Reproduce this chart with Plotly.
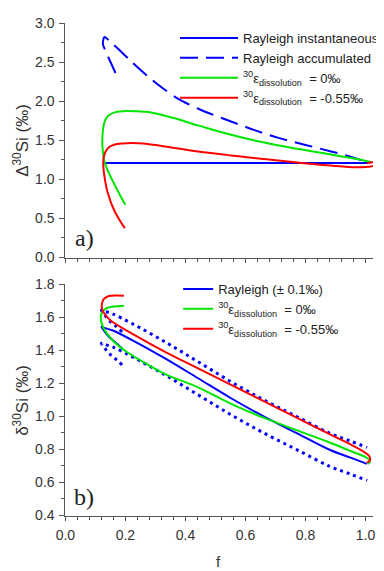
import plotly.graph_objects as go

# ---------------- Panel a) data ----------------
inst_f = [0.125, 1.01]
inst_d = [1.21, 1.21]

acc_f = [0.167, 0.148, 0.133, 0.125, 0.126, 0.130, 0.155, 0.178, 0.222, 0.277, 0.33, 0.376,
         0.45, 0.552, 0.63, 0.71, 0.80, 0.882, 0.95, 1.005]
acc_d = [2.36, 2.52, 2.65, 2.73, 2.78, 2.82, 2.74, 2.66, 2.50, 2.31, 2.15, 2.03,
         1.89, 1.74, 1.63, 1.53, 1.44, 1.36, 1.29, 1.22]

g0_f = [0.200, 0.183, 0.167, 0.155, 0.145, 0.136, 0.129, 0.125, 0.123, 0.124, 0.127, 0.133,
        0.145, 0.167, 0.206, 0.24, 0.277, 0.354, 0.442, 0.552, 0.662, 0.772, 0.882, 0.970, 1.02]
g0_d = [0.675, 0.79, 0.91, 1.00, 1.08, 1.16, 1.25, 1.35, 1.465, 1.58, 1.68, 1.76,
        1.82, 1.86, 1.875, 1.87, 1.86, 1.79, 1.69, 1.57, 1.47, 1.39, 1.32, 1.26, 1.22]

r0_f = [0.198, 0.182, 0.167, 0.155, 0.145, 0.137, 0.132, 0.128, 0.126, 0.128, 0.134, 0.145,
        0.162, 0.19, 0.222, 0.26, 0.332, 0.442, 0.552, 0.662, 0.772, 0.882, 0.97, 1.01,
        1.03, 1.028, 1.005]
r0_d = [0.376, 0.47, 0.57, 0.67, 0.78, 0.89, 0.995, 1.10, 1.21, 1.29, 1.357, 1.41,
        1.443, 1.46, 1.465, 1.46, 1.42, 1.357, 1.306, 1.26, 1.216, 1.178, 1.155, 1.16,
        1.185, 1.215, 1.205]

# ---------------- Panel b) data ----------------
ray_f = [0.189, 0.165, 0.145, 0.130, 0.120, 0.130, 0.156, 0.222, 0.332, 0.442, 0.552,
         0.662, 0.772, 0.882, 0.95, 1.005]
ray_d = [1.411, 1.45, 1.481, 1.515, 1.542, 1.535, 1.52, 1.461, 1.35, 1.23, 1.109,
         0.998, 0.897, 0.796, 0.75, 0.712]
ray_hi = [1.511, 1.55, 1.581, 1.615, 1.642, 1.635, 1.62, 1.561, 1.45, 1.33, 1.209,
          1.098, 0.997, 0.896, 0.85, 0.812]
ray_lo = [1.311, 1.35, 1.381, 1.415, 1.442, 1.435, 1.42, 1.361, 1.25, 1.13, 1.009,
          0.898, 0.797, 0.696, 0.65, 0.612]

g1_f = [0.195, 0.175, 0.156, 0.138, 0.129, 0.120, 0.118, 0.121, 0.134, 0.150, 0.167, 0.211,
        0.277, 0.332, 0.442, 0.552, 0.662, 0.772, 0.882, 0.95, 1.005, 1.015, 1.008]
g1_d = [1.669, 1.666, 1.663, 1.655, 1.643, 1.62, 1.602, 1.562, 1.512, 1.475, 1.441, 1.381,
        1.31, 1.255, 1.175, 1.075, 0.99, 0.915, 0.84, 0.79, 0.748, 0.73, 0.712]

r1_f = [0.195, 0.17, 0.145, 0.13, 0.125, 0.121, 0.124, 0.129, 0.14, 0.156, 0.222, 0.332,
        0.442, 0.552, 0.662, 0.772, 0.882, 0.95, 0.99, 1.012, 1.015, 1.005]
r1_d = [1.729, 1.73, 1.727, 1.712, 1.70, 1.663, 1.64, 1.623, 1.598, 1.572, 1.50, 1.39,
        1.29, 1.19, 1.09, 0.99, 0.89, 0.83, 0.79, 0.76, 0.735, 0.72]

x_ticks = [0.0, 0.2, 0.4, 0.6, 0.8, 1.0]
x_tick_text = ["0.0", "0.2", "0.4", "0.6", "0.8", "1.0"]

BLUE = "#0000ff"
GREEN = "#00e600"
RED = "#ff0000"
AX = "#555555"
TXT = "#333333"
FONT = "Liberation Sans, Arial, sans-serif"
SERIF = "Liberation Serif, Times New Roman, serif"

# page is shown with an 8px body margin; figure sized to fit the window
OFF = 8
W, H = 384 - OFF, 571 - OFF


def px(x):
    return (x - OFF) / W


def py(y):
    return 1 - (y - OFF) / H


fig = go.Figure()

# panel a
fig.add_trace(go.Scatter(x=inst_f, y=inst_d, mode="lines", line=dict(color=BLUE, width=2),
                         name="Rayleigh instantaneous", xaxis="x", yaxis="y", legend="legend"))
fig.add_trace(go.Scatter(x=acc_f, y=acc_d, mode="lines",
                         line=dict(color=BLUE, width=2, dash="18px,8px", shape="spline", smoothing=0.8),
                         name="Rayleigh accumulated", xaxis="x", yaxis="y", legend="legend"))
fig.add_trace(go.Scatter(x=g0_f, y=g0_d, mode="lines", line=dict(color=GREEN, width=2, shape="spline"),
                         name="<sup>30</sup>ε<sub>dissolution</sub>  = 0‰",
                         xaxis="x", yaxis="y", legend="legend"))
fig.add_trace(go.Scatter(x=r0_f, y=r0_d, mode="lines", line=dict(color=RED, width=2, shape="spline"),
                         name="<sup>30</sup>ε<sub>dissolution</sub>  = -0.55‰",
                         xaxis="x", yaxis="y", legend="legend"))

# panel b
fig.add_trace(go.Scatter(x=ray_f, y=ray_hi, mode="lines",
                         line=dict(color=BLUE, width=3, dash="3px,4px", shape="spline"),
                         showlegend=False, xaxis="x2", yaxis="y2"))
fig.add_trace(go.Scatter(x=ray_f, y=ray_lo, mode="lines",
                         line=dict(color=BLUE, width=3, dash="3px,4px", shape="spline"),
                         showlegend=False, xaxis="x2", yaxis="y2"))
fig.add_trace(go.Scatter(x=ray_f, y=ray_d, mode="lines", line=dict(color=BLUE, width=2, shape="spline"),
                         name="Rayleigh (± 0.1‰)", xaxis="x2", yaxis="y2", legend="legend2"))
fig.add_trace(go.Scatter(x=g1_f, y=g1_d, mode="lines", line=dict(color=GREEN, width=2, shape="spline"),
                         name="<sup>30</sup>ε<sub>dissolution</sub>  = 0‰",
                         xaxis="x2", yaxis="y2", legend="legend2"))
fig.add_trace(go.Scatter(x=r1_f, y=r1_d, mode="lines", line=dict(color=RED, width=2, shape="spline"),
                         name="<sup>30</sup>ε<sub>dissolution</sub>  = -0.55‰",
                         xaxis="x2", yaxis="y2", legend="legend2"))

xdom = [px(66), px(377)]
common_x = dict(range=[0, 1.025], domain=xdom, showgrid=False, zeroline=False,
                showline=True, linecolor=AX, linewidth=1, ticks="outside", ticklen=4,
                tickcolor=AX, tickvals=x_ticks, ticktext=x_tick_text, ticklabelstandoff=3,
                minor=dict(dtick=0.04, tick0=0, ticks="outside", ticklen=3, tickcolor=AX),
                tickfont=dict(family=FONT, size=14, color=TXT), automargin=False, fixedrange=True)

fig.update_layout(
    width=W, height=H,
    margin=dict(l=0, r=0, t=0, b=0),
    paper_bgcolor="white", plot_bgcolor="white",
    font=dict(family=FONT, size=13, color=TXT),
    xaxis=dict(common_x, anchor="y", showticklabels=False),
    yaxis=dict(range=[0, 3.0], domain=[py(257.5), py(23)], anchor="x",
               showgrid=False, zeroline=False, showline=True, linecolor=AX, linewidth=1,
               ticks="outside", ticklen=5, tickcolor=AX, dtick=0.5, tick0=0, tickformat=".1f",
               ticklabelstandoff=2,
               minor=dict(dtick=0.25, ticks="outside", ticklen=3, tickcolor=AX),
               tickfont=dict(family=FONT, size=14, color=TXT), automargin=False),
    xaxis2=dict(common_x, anchor="y2"),
    yaxis2=dict(range=[0.4, 1.8], domain=[py(515.5), py(284)], anchor="x2",
                showgrid=False, zeroline=False, showline=True, linecolor=AX, linewidth=1,
                ticks="outside", ticklen=5, tickcolor=AX, dtick=0.2, tick0=0.4, tickformat=".1f",
                ticklabelstandoff=2,
                minor=dict(dtick=0.1, ticks="outside", ticklen=3, tickcolor=AX),
                tickfont=dict(family=FONT, size=14, color=TXT), automargin=False),
    legend=dict(x=px(177), y=py(23), xanchor="left", yanchor="top",
                bgcolor="rgba(0,0,0,0)", borderwidth=0, itemwidth=58, tracegroupgap=0,
                font=dict(family=FONT, size=13, color="#222222")),
    legend2=dict(x=px(180), y=py(274), xanchor="left", yanchor="top",
                 bgcolor="rgba(0,0,0,0)", borderwidth=0, itemwidth=30, tracegroupgap=0,
                 font=dict(family=FONT, size=13, color="#222222")),
    showlegend=True,
)

anns = [
    dict(text="a)", x=px(85), y=py(238), font=dict(family=SERIF, size=24, color="#222")),
    dict(text="b)", x=px(85), y=py(497), font=dict(family=SERIF, size=24, color="#222")),
    dict(text="Δ<sup>30</sup>Si (‰)", x=px(21), y=py(140), textangle=-90,
         font=dict(family=FONT, size=17, color=TXT)),
    dict(text="δ<sup>30</sup>Si (‰)", x=px(21), y=py(400), textangle=-90,
         font=dict(family=FONT, size=17, color=TXT)),
    dict(text="f", x=px(221), y=py(561), font=dict(family=FONT, size=15, color=TXT)),
]
for a in anns:
    fig.add_annotation(xref="paper", yref="paper", showarrow=False, xanchor="center",
                       yanchor="middle", **a)

fig.write_html("out.html")
